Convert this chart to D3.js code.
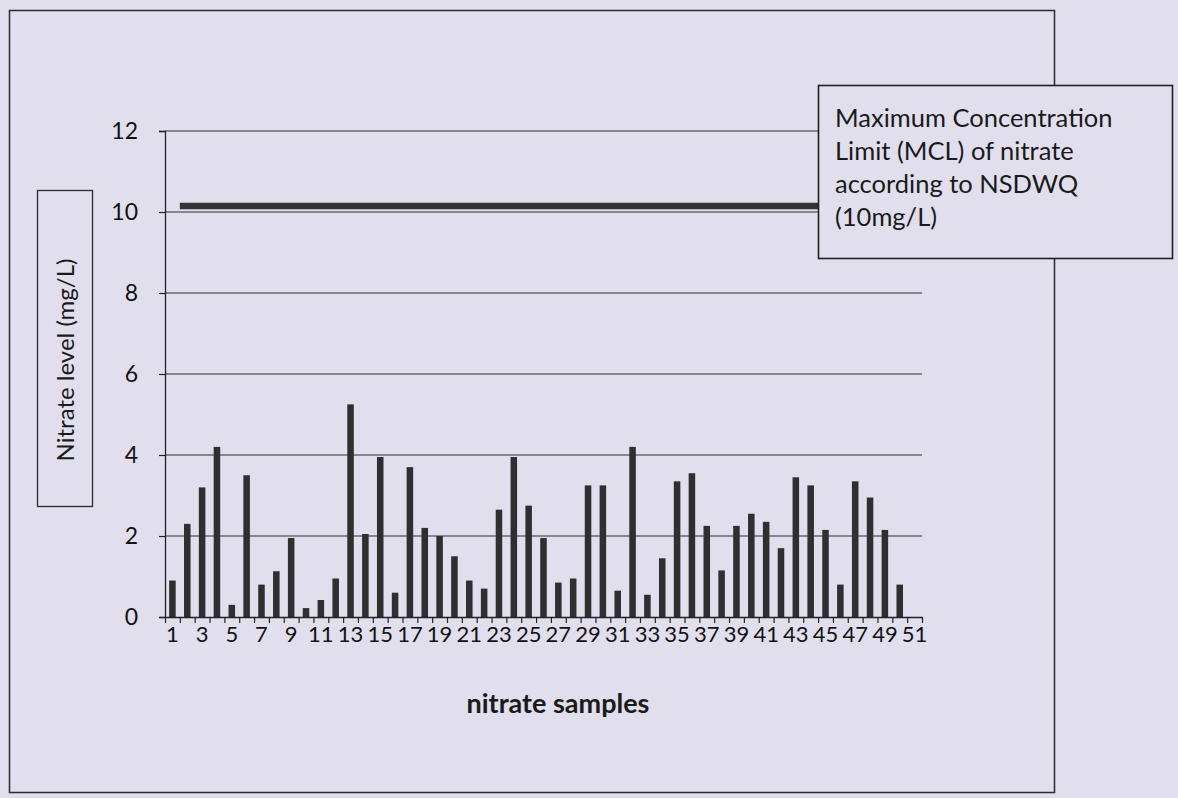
<!DOCTYPE html>
<html>
<head>
<meta charset="utf-8">
<script src="https://cdn.jsdelivr.net/npm/d3@7"></script>
<style>
  html, body { margin: 0; padding: 0; background: #e1dfed; }
  svg { display: block; }
</style>
</head>
<body>
<svg id="chart"></svg>
<script>
// sample numbers and nitrate readings (mg/L), sample 51 has no bar
const samples = [1,2,3,4,5,6,7,8,9,10,11,12,13,14,15,16,17,18,19,20,21,22,23,24,25,
  26,27,28,29,30,31,32,33,34,35,36,37,38,39,40,41,42,43,44,45,46,47,48,49,50,51]
const nitrate = [0.9,2.3,3.2,4.2,0.3,3.5,0.8,1.13,1.95,0.22,0.42,0.95,5.25,2.05,3.95,
  0.6,3.7,2.2,2.0,1.5,0.9,0.7,2.65,3.95,2.75,1.95,0.85,0.95,3.25,3.25,0.65,4.2,0.55,
  1.45,3.35,3.55,2.25,1.15,2.25,2.55,2.35,1.7,3.45,3.25,2.15,0.8,3.35,2.95,2.15,0.8,null]
const xTickLabels = [1,3,5,7,9,11,13,15,17,19,21,23,25,27,29,31,33,35,37,39,41,43,45,47,49,51]
const yTicks = [0,2,4,6,8,10,12]
const mclLevel = 10.15
const mclText = ['Maximum Concentration', 'Limit (MCL) of nitrate', 'according to NSDWQ', '(10mg/L)']

const width = 1178
const height = 798
const font = 'Lato, "Open Sans", sans-serif'

const svg = d3.select('#chart').attr('width', width).attr('height', height)

// outer chart frame
svg.append('rect')
  .attr('x', 9.5).attr('y', 10.5)
  .attr('width', 1045).attr('height', 782)
  .attr('fill', 'none')
  .attr('stroke', '#2b2b2b')
  .attr('stroke-width', 1.5)

const x = d3.scaleBand()
  .domain(samples)
  .range([165, 922])
  .paddingInner(0.56)
  .paddingOuter(0.28)

const xEdge = d3.scaleLinear()
  .domain([0.5, samples.length + 0.5])
  .range([165, 922])

const y = d3.scaleLinear().domain([0, 12]).range([617, 131])

// gridlines
svg.append('g')
  .selectAll('line')
  .data(yTicks.filter(d => d > 0))
  .enter().append('line')
  .attr('x1', 165).attr('x2', 922)
  .attr('y1', d => y(d)).attr('y2', d => y(d))
  .attr('stroke', '#2e2e2e')
  .attr('stroke-width', 1.2)

// bars
svg.append('g')
  .selectAll('rect')
  .data(samples.map((s, i) => ({ sample: s, value: nitrate[i] })).filter(d => d.value != null))
  .enter().append('rect')
  .attr('x', d => x(d.sample))
  .attr('y', d => y(d.value))
  .attr('width', x.bandwidth())
  .attr('height', d => y(0) - y(d.value))
  .attr('fill', '#2f2f2f')

// MCL line
svg.append('line')
  .attr('x1', xEdge(1.5)).attr('x2', 818)
  .attr('y1', y(mclLevel)).attr('y2', y(mclLevel))
  .attr('stroke', '#333')
  .attr('stroke-width', 6.5)

// y axis
const yAxis = svg.append('g')
  .attr('transform', 'translate(165,0)')
  .call(d3.axisLeft(y).tickValues(yTicks).tickSize(6).tickPadding(21))
yAxis.select('.domain').attr('stroke', '#222').attr('stroke-width', 1.3)
yAxis.selectAll('.tick line').attr('stroke', '#222').attr('stroke-width', 1.2)
yAxis.selectAll('text')
  .attr('font-family', font)
  .attr('font-size', '23px')
  .attr('fill', '#111')

// x axis: tick marks between samples
const xTicks = svg.append('g')
  .attr('transform', `translate(0,${y(0)})`)
  .call(d3.axisBottom(xEdge)
    .tickValues(d3.range(0.5, samples.length + 1, 1))
    .tickFormat('')
    .tickSize(6)
    .tickSizeOuter(0))
xTicks.select('.domain').attr('stroke', '#222').attr('stroke-width', 1.3)
xTicks.selectAll('.tick line').attr('stroke', '#222').attr('stroke-width', 1.2)

// x labels
const xLabels = svg.append('g')
  .attr('transform', `translate(0,${y(0)})`)
  .call(d3.axisBottom(x).tickValues(xTickLabels).tickSize(0).tickPadding(9))
xLabels.select('.domain').remove()
xLabels.selectAll('text')
  .attr('font-family', font)
  .attr('font-size', '22px')
  .attr('fill', '#111')

// x axis title
svg.append('text')
  .attr('x', 558).attr('y', 713)
  .attr('text-anchor', 'middle')
  .attr('font-family', font)
  .attr('font-size', '27px')
  .attr('font-weight', 'bold')
  .attr('fill', '#1a1a1a')
  .text('nitrate samples')

// y axis title in a box
svg.append('rect')
  .attr('x', 37.5).attr('y', 190.5)
  .attr('width', 55).attr('height', 316)
  .attr('fill', 'none')
  .attr('stroke', '#2b2b2b')
  .attr('stroke-width', 1.3)

svg.append('text')
  .attr('transform', 'translate(74,360) rotate(-90)')
  .attr('text-anchor', 'middle')
  .attr('font-family', font)
  .attr('font-size', '24px')
  .attr('fill', '#1a1a1a')
  .text('Nitrate level (mg/L)')

// MCL annotation box
svg.append('rect')
  .attr('x', 818.5).attr('y', 85.5)
  .attr('width', 354).attr('height', 173)
  .attr('fill', '#e1dfed')
  .attr('stroke', '#1f1f1f')
  .attr('stroke-width', 1.6)

svg.append('g')
  .selectAll('text')
  .data(mclText)
  .enter().append('text')
  .attr('x', 835)
  .attr('y', (d, i) => 127 + i * 33)
  .attr('font-family', font)
  .attr('font-size', '25.5px')
  .attr('fill', '#1a1a1a')
  .text(d => d)
</script>
</body>
</html>
